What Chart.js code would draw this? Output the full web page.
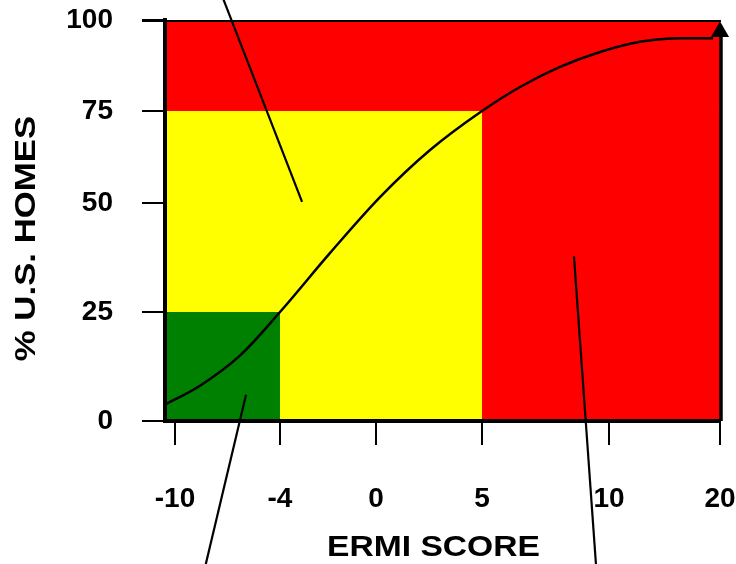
<!DOCTYPE html>
<html>
<head>
<meta charset="utf-8">
<script src="https://cdn.jsdelivr.net/npm/chart.js@4.4.1/dist/chart.umd.min.js"></script>
<style>
    body { margin: 0; background: #ffffff; }
    #caixa { width: 736px; height: 564px; position: relative; }
</style>
</head>
<body>
<div id="caixa"><canvas id="grafico-ermi"></canvas></div>
<script>
// Dados
const xTicks = [-10, -4, 0, 5, 10, 20];
const yTicks = [0, 25, 50, 75, 100];

// curva: % de casas dos EUA vs pontuação ERMI
const ermiScore = [-10.5, -8.57, -6.29, -4, -1.92, 0.19, 2.55, 5, 6.5, 8.07, 9.65, 12.79, 16.4, 19.37];
const pctHomes = [3.9, 8.1, 15.0, 25, 38.5, 51.6, 64.4, 75, 81.6, 87.1, 91.2, 94.0, 95.0, 95.0];

// faixas coloridas (de / até)
const zoneScoreFrom = [-Infinity, -Infinity, -Infinity, 5];
const zoneScoreTo = [5, -4, 20, 20];
const zonePctFrom = [0, 0, 75, 0];
const zonePctTo = [75, 25, 100, 75];

// linhas indicadoras (saem para fora do gráfico)
const pointerScore = [[-7.26, -3.08], [-5.94, -8.31], [8.62, 9.5]];
const pointerPct = [[106, 50.3], [6.0, -34], [37.8, -34]];

// seta no topo do eixo da direita
const arrowScore = [20];
const arrowPct = [96.8];

// Espaçamento dos ticks no desenho original (não é uniforme)
const xKnotPos = [1.89, 20.79, 38.07, 57.16, 80.02, 100];
const yKnotPos = [0, 27.18, 54.36, 77.31, 100];
const zoneColors = ['#ffff00', '#008000', '#ff0000', '#ff0000'];

function warp(v, knots, pos) {
    let i = 0;
    while (i < knots.length - 2 && v > knots[i + 1]) i++;
    return pos[i] + (v - knots[i]) * (pos[i + 1] - pos[i]) / (knots[i + 1] - knots[i]);
}
function ponto(s, p) {
    return { x: warp(s, xTicks, xKnotPos), y: warp(p, yTicks, yKnotPos) };
}

let curva = [];
for (let i = 0; i < ermiScore.length; i++) {
    curva.push(ponto(ermiScore[i], pctHomes[i]));
}

let datasets = [{
    data: curva,
    borderColor: '#000000',
    borderWidth: 2.5,
    pointRadius: 0,
    cubicInterpolationMode: 'monotone',
    clip: false
}];

for (let i = 0; i < pointerScore.length; i++) {
    datasets.push({
        data: [ponto(pointerScore[i][0], pointerPct[i][0]), ponto(pointerScore[i][1], pointerPct[i][1])],
        borderColor: '#000000',
        borderWidth: 2.2,
        pointRadius: 0,
        clip: false
    });
}

datasets.push({
    data: [ponto(arrowScore[0], arrowPct[0])],
    showLine: false,
    pointStyle: 'triangle',
    pointRadius: 10.5,
    backgroundColor: '#000000',
    borderColor: '#000000',
    borderWidth: 0,
    clip: false
});

// faixas desenhadas antes dos eixos, para a borda ficar por cima
const faixas = {
    id: 'faixas',
    beforeDraw(chart) {
        const ctx = chart.ctx;
        const a = chart.chartArea;
        const sx = chart.scales.x;
        const sy = chart.scales.y;
        ctx.save();
        for (let i = 0; i < zoneColors.length; i++) {
            let x0 = Math.max(a.left, sx.getPixelForValue(warp(zoneScoreFrom[i], xTicks, xKnotPos)));
            let x1 = Math.min(a.right, sx.getPixelForValue(warp(zoneScoreTo[i], xTicks, xKnotPos)));
            let y0 = sy.getPixelForValue(warp(zonePctTo[i], yTicks, yKnotPos));
            let y1 = sy.getPixelForValue(warp(zonePctFrom[i], yTicks, yKnotPos));
            ctx.fillStyle = zoneColors[i];
            ctx.fillRect(x0, y0, x1 - x0, y1 - y0);
        }
        ctx.restore();
    },
    afterDatasetsDraw(chart) {
        const ctx = chart.ctx;
        const a = chart.chartArea;
        ctx.save();
        ctx.strokeStyle = '#000000';
        // borda de cima
        ctx.lineWidth = 2;
        ctx.beginPath();
        ctx.moveTo(142, a.top + 1);
        ctx.lineTo(a.right + 1, a.top + 1);
        ctx.stroke();
        // borda da direita
        ctx.lineWidth = 3.5;
        ctx.beginPath();
        ctx.moveTo(a.right + 1, a.top + 17);
        ctx.lineTo(a.right + 1, a.bottom);
        ctx.stroke();

        // títulos dos eixos
        ctx.fillStyle = '#000000';
        ctx.font = 'bold 30px "Liberation Sans", Arial, sans-serif';
        ctx.textAlign = 'center';
        ctx.textBaseline = 'middle';
        ctx.save();
        ctx.translate(433.5, 548);
        ctx.scale(1.12, 1);
        ctx.fillText('ERMI SCORE', 0, 0);
        ctx.restore();
        ctx.save();
        ctx.translate(27, 238.5);
        ctx.rotate(-Math.PI / 2);
        ctx.scale(1.16, 1);
        ctx.fillText('% U.S. HOMES', 0, 0);
        ctx.restore();
        ctx.restore();
    }
};

const fonteTicks = { size: 28, weight: 'bold', family: '"Liberation Sans", Arial, sans-serif' };

function semPadding(s) {
    s.paddingLeft = 0;
    s.paddingRight = 0;
    s.paddingTop = 0;
    s.paddingBottom = 0;
}

const ctx = document.getElementById('grafico-ermi');
new Chart(ctx, {
    type: 'line',
    data: { datasets: datasets },
    options: {
        responsive: true,
        maintainAspectRatio: false,
        animation: false,
        layout: { padding: { top: 20, right: 16, left: 0, bottom: 0 } },
        plugins: {
            legend: { display: false },
            tooltip: { enabled: false }
        },
        scales: {
            x: {
                type: 'linear',
                min: 0,
                max: 100,
                afterFit(s) { s.height = 143; semPadding(s); },
                afterBuildTicks(s) { s.ticks = xKnotPos.map(v => ({ value: v })); },
                ticks: {
                    autoSkip: false,
                    maxRotation: 0,
                    padding: 37,
                    color: '#000000',
                    font: fonteTicks,
                    callback: function (v, i) { return String(xTicks[i]); }
                },
                grid: { drawOnChartArea: false, tickLength: 24, lineWidth: 2, color: '#000000' },
                border: { color: '#000000', width: 4 }
            },
            y: {
                type: 'linear',
                min: 0,
                max: 100,
                afterFit(s) { s.width = 164.5; semPadding(s); },
                afterBuildTicks(s) { s.ticks = yKnotPos.map(v => ({ value: v })); },
                ticks: {
                    autoSkip: false,
                    padding: 29,
                    color: '#000000',
                    font: fonteTicks,
                    callback: function (v, i) { return String(yTicks[i]); }
                },
                grid: { drawOnChartArea: false, tickLength: 22.5, lineWidth: 2, color: '#000000' },
                border: { color: '#000000', width: 4 }
            }
        }
    },
    plugins: [faixas]
});
</script>
</body>
</html>
